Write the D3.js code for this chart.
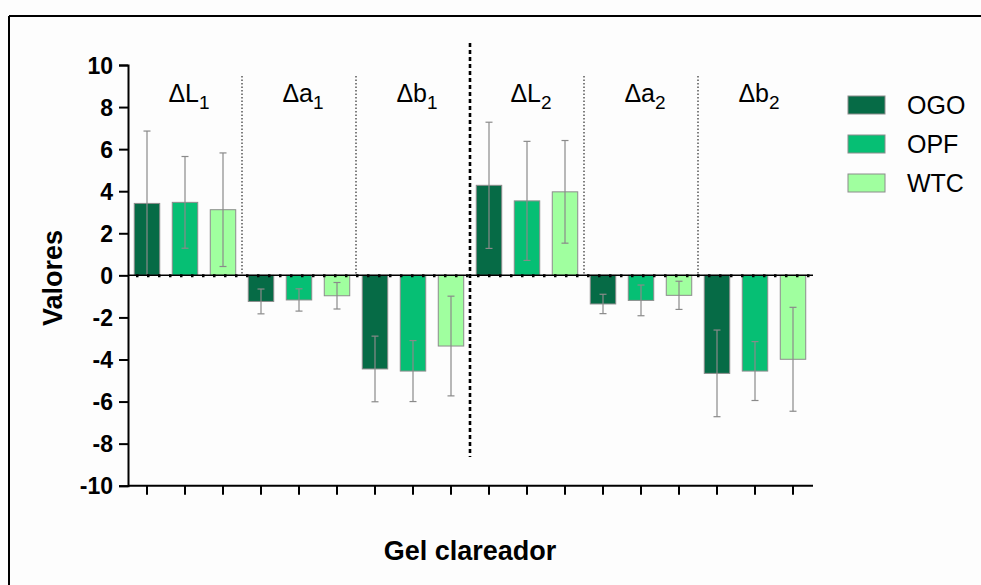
<!DOCTYPE html>
<html>
<head>
<meta charset="utf-8">
<script src="https://cdn.jsdelivr.net/npm/d3@7"></script>
<style>
  body { margin: 0; background: #fdfdfd; }
  svg { display: block; font-family: "Liberation Sans", Arial, sans-serif; }
</style>
</head>
<body>
<div id="chart"></div>
<script>
// Groups (color differences) and treatments
const groups = ['L1', 'a1', 'b1', 'L2', 'a2', 'b2'];
const groupLetters = ['L', 'a', 'b', 'L', 'a', 'b'];
const groupSubs = ['1', '1', '1', '2', '2', '2'];
const treatments = ['OGO', 'OPF', 'WTC'];

// Means per treatment (same order as groups)
const ogoMeans = [3.42, -1.24, -4.45, 4.28, -1.36, -4.66];
const opfMeans = [3.47, -1.17, -4.55, 3.54, -1.19, -4.55];
const wtcMeans = [3.12, -0.97, -3.36, 3.97, -0.95, -3.99];

// Standard deviations
const ogoSd = [3.44, 0.59, 1.56, 3.00, 0.46, 2.06];
const opfSd = [2.18, 0.53, 1.45, 2.83, 0.73, 1.40];
const wtcSd = [2.70, 0.63, 2.37, 2.44, 0.67, 2.47];

const yTicks = [10, 8, 6, 4, 2, 0, -2, -4, -6, -8, -10];

const colors = { 'OGO': '#066b46', 'OPF': '#06bf74', 'WTC': '#a0ff9f' };

const width = 981, height = 585;
const plot = { left: 128, right: 812, top: 65, bottom: 485.7 };

const svg = d3.select('#chart').append('svg')
  .attr('width', width)
  .attr('height', height);

// frame (top + left only visible)
svg.append('line').attr('x1', 9).attr('x2', width).attr('y1', 16).attr('y2', 16)
  .attr('stroke', '#000').attr('stroke-width', 2);
svg.append('line').attr('x1', 9).attr('x2', 9).attr('y1', 16).attr('y2', height)
  .attr('stroke', '#000').attr('stroke-width', 2);

// build flat data
const meanSets = { OGO: ogoMeans, OPF: opfMeans, WTC: wtcMeans };
const sdSets = { OGO: ogoSd, OPF: opfSd, WTC: wtcSd };
const barData = [];
groups.forEach((g, gi) => {
  treatments.forEach(t => {
    barData.push({ key: g + '-' + t, group: g, gi: gi, treatment: t,
      value: meanSets[t][gi], sd: sdSets[t][gi] });
  });
});

const x = d3.scaleBand()
  .domain(barData.map(d => d.key))
  .range([plot.left, plot.right])
  .paddingInner(0.33)
  .paddingOuter(0.165);

const y = d3.scaleLinear()
  .domain([-10, 10])
  .range([plot.bottom, plot.top]);

const step = (plot.right - plot.left) / barData.length;

// separators between groups
[1, 2, 4, 5].forEach(i => {
  const sx = plot.left + i * 3 * step;
  svg.append('line')
    .attr('x1', sx).attr('x2', sx)
    .attr('y1', 76).attr('y2', y(0))
    .attr('stroke', '#555').attr('stroke-width', 1.5)
    .attr('stroke-dasharray', '1.5,2');
});
const midX = plot.left + 9 * step;
svg.append('line')
  .attr('x1', midX).attr('x2', midX)
  .attr('y1', 43).attr('y2', 457)
  .attr('stroke', '#000').attr('stroke-width', 2.6)
  .attr('stroke-dasharray', '4,3');

// bars
svg.selectAll('.bar')
  .data(barData)
  .enter().append('rect')
  .attr('class', 'bar')
  .attr('x', d => x(d.key))
  .attr('width', x.bandwidth())
  .attr('y', d => y(Math.max(0, d.value)))
  .attr('height', d => Math.abs(y(d.value) - y(0)))
  .style('fill', d => colors[d.treatment])
  .style('stroke', '#8c8c8c')
  .style('stroke-width', 1);

// error bars
const cap = 3.5;
barData.forEach(d => {
  const cx = x(d.key) + x.bandwidth() / 2;
  const lo = d.value - d.sd, hi = d.value + d.sd;
  const g = svg.append('g').attr('stroke', '#8a8a8a').attr('stroke-width', 1.2);
  g.append('line').attr('x1', cx).attr('x2', cx).attr('y1', y(hi)).attr('y2', y(lo));
  if (!(d.value > 0 && lo < 0.1)) {
    g.append('line').attr('x1', cx - cap).attr('x2', cx + cap).attr('y1', y(lo)).attr('y2', y(lo));
  }
  g.append('line').attr('x1', cx - cap).attr('x2', cx + cap).attr('y1', y(hi)).attr('y2', y(hi));
});

// zero line (solid + dotted overlay)
svg.append('line')
  .attr('x1', plot.left).attr('x2', plot.right + 1)
  .attr('y1', y(0)).attr('y2', y(0))
  .attr('stroke', '#000').attr('stroke-width', 1.5);
svg.append('line')
  .attr('x1', plot.left + 8).attr('x2', plot.right + 1)
  .attr('y1', y(0) + 0.5).attr('y2', y(0) + 0.5)
  .attr('stroke', '#000').attr('stroke-width', 3)
  .attr('stroke-dasharray', '2.5,8.5');

// y axis
const yAxis = d3.axisLeft(y).tickValues(yTicks).tickSize(9).tickPadding(6)
  .tickFormat(d => String(d));
const yG = svg.append('g')
  .attr('transform', `translate(${plot.left},0)`)
  .call(yAxis);
yG.select('.domain').attr('stroke-width', 2);
yG.selectAll('.tick line').attr('stroke-width', 2);
yG.selectAll('.tick text')
  .style('font-size', '23px').style('font-weight', 'bold').attr('fill', '#000')
  .attr('dy', '0.36em');

// x axis (ticks without labels)
const xAxis = d3.axisBottom(x).tickSize(9).tickFormat('');
const xG = svg.append('g')
  .attr('transform', `translate(0,${plot.bottom})`)
  .call(xAxis);
xG.select('.domain').attr('d', `M${plot.left},0H${plot.right + 1}`).attr('stroke-width', 2);
xG.selectAll('.tick line').attr('stroke-width', 2);

// group labels
groups.forEach((g, gi) => {
  const cx = plot.left + (gi * 3 + 1.5) * step + 4;
  const t = svg.append('text')
    .attr('x', cx).attr('y', 102)
    .attr('text-anchor', 'middle')
    .style('font-size', '25px');
  t.append('tspan').text('\u0394' + groupLetters[gi]);
  t.append('tspan').attr('dy', 7).style('font-size', '19px').text(groupSubs[gi]);
});

// axis titles
svg.append('text')
  .attr('transform', 'translate(62,278) rotate(-90)')
  .attr('text-anchor', 'middle')
  .style('font-size', '27px').style('font-weight', 'bold')
  .text('Valores');

svg.append('text')
  .attr('x', 470).attr('y', 560)
  .attr('text-anchor', 'middle')
  .style('font-size', '27px').style('font-weight', 'bold')
  .text('Gel clareador');

// legend
const legend = svg.selectAll('.legend')
  .data(treatments)
  .enter().append('g')
  .attr('class', 'legend')
  .attr('transform', (d, i) => `translate(848,${96 + i * 39})`);
legend.append('rect')
  .attr('width', 37).attr('height', 18)
  .style('fill', d => colors[d])
  .style('stroke', '#8c8c8c').style('stroke-width', 1);
legend.append('text')
  .attr('x', 59).attr('y', 18)
  .style('font-size', '25px')
  .text(d => d);
</script>
</body>
</html>
